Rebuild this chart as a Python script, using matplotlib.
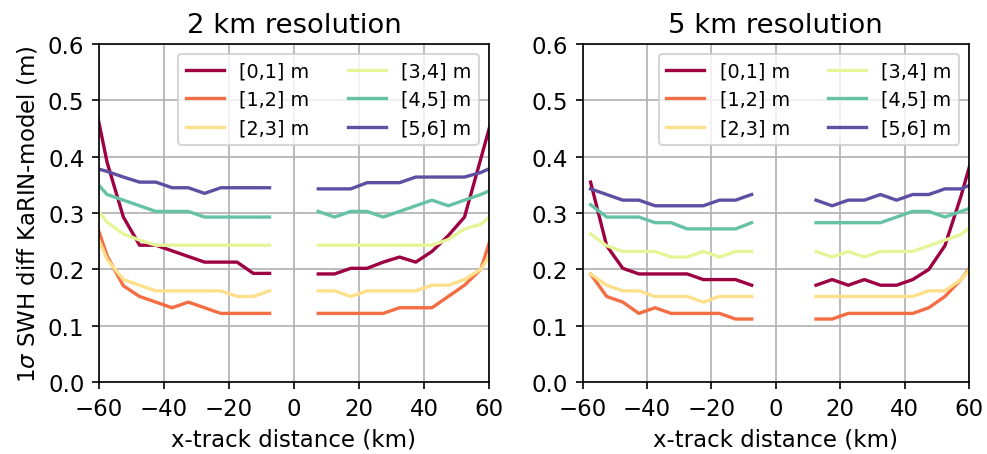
import numpy as np
import matplotlib
matplotlib.use("Agg")
import matplotlib.pyplot as plt

plt.rcParams['font.size'] = 11

# SWH bins and colours
bins = ['[0,1] m', '[1,2] m', '[2,3] m', '[3,4] m', '[4,5] m', '[5,6] m']
colors = plt.cm.Spectral(np.linspace(0, 1, len(bins)))

# --- 2 km resolution ---
x2_left = np.arange(-62.5, -5, 5.0)
x2_right = np.arange(7.5, 65, 5.0)
swh2_left = [
    [0.53, 0.39, 0.293, 0.243, 0.243, 0.233, 0.223, 0.213, 0.213, 0.213, 0.193, 0.193],
    [0.31, 0.224, 0.171, 0.152, 0.142, 0.132, 0.142, 0.132, 0.122, 0.122, 0.122, 0.122],
    [0.285, 0.218, 0.182, 0.172, 0.162, 0.162, 0.162, 0.162, 0.162, 0.152, 0.152, 0.162],
    [0.32, 0.284, 0.263, 0.252, 0.243, 0.243, 0.243, 0.243, 0.243, 0.243, 0.243, 0.243],
    [0.365, 0.333, 0.323, 0.313, 0.303, 0.303, 0.303, 0.293, 0.293, 0.293, 0.293, 0.293],
    [0.382, 0.374, 0.364, 0.355, 0.355, 0.345, 0.345, 0.335, 0.345, 0.345, 0.345, 0.345],
]
swh2_right = [
    [0.192, 0.192, 0.202, 0.202, 0.213, 0.222, 0.213, 0.232, 0.26, 0.293, 0.396, 0.50],
    [0.122, 0.122, 0.122, 0.122, 0.122, 0.132, 0.132, 0.132, 0.152, 0.172, 0.20, 0.29],
    [0.162, 0.162, 0.152, 0.162, 0.162, 0.162, 0.162, 0.172, 0.172, 0.182, 0.20, 0.245],
    [0.243, 0.243, 0.243, 0.243, 0.243, 0.243, 0.243, 0.243, 0.253, 0.272, 0.28, 0.305],
    [0.303, 0.293, 0.303, 0.303, 0.293, 0.303, 0.313, 0.323, 0.313, 0.323, 0.333, 0.345],
    [0.343, 0.343, 0.343, 0.354, 0.354, 0.354, 0.364, 0.364, 0.364, 0.364, 0.372, 0.385],
]

# --- 5 km resolution ---
x5_left = np.arange(-57.5, -5, 5.0)
x5_right = np.arange(12.5, 65, 5.0)
swh5_left = [
    [0.355, 0.242, 0.202, 0.192, 0.192, 0.192, 0.192, 0.182, 0.182, 0.182, 0.172],
    [0.192, 0.152, 0.142, 0.122, 0.132, 0.122, 0.122, 0.122, 0.122, 0.112, 0.112],
    [0.192, 0.172, 0.162, 0.162, 0.152, 0.152, 0.152, 0.142, 0.152, 0.152, 0.152],
    [0.263, 0.242, 0.232, 0.232, 0.232, 0.222, 0.222, 0.232, 0.222, 0.232, 0.232],
    [0.315, 0.293, 0.293, 0.293, 0.283, 0.283, 0.272, 0.272, 0.272, 0.272, 0.283],
    [0.343, 0.333, 0.323, 0.323, 0.313, 0.313, 0.313, 0.313, 0.323, 0.323, 0.333],
]
swh5_right = [
    [0.172, 0.182, 0.172, 0.182, 0.172, 0.172, 0.182, 0.20, 0.242, 0.33, 0.43],
    [0.112, 0.112, 0.122, 0.122, 0.122, 0.122, 0.122, 0.132, 0.152, 0.182, 0.22],
    [0.152, 0.152, 0.152, 0.152, 0.152, 0.152, 0.152, 0.162, 0.162, 0.182, 0.215],
    [0.232, 0.222, 0.232, 0.222, 0.232, 0.232, 0.232, 0.242, 0.252, 0.262, 0.285],
    [0.283, 0.283, 0.283, 0.283, 0.283, 0.293, 0.303, 0.303, 0.293, 0.303, 0.313],
    [0.323, 0.313, 0.323, 0.323, 0.333, 0.323, 0.333, 0.333, 0.343, 0.343, 0.355],
]

panels = [
    ('2 km resolution', x2_left, swh2_left, x2_right, swh2_right),
    ('5 km resolution', x5_left, swh5_left, x5_right, swh5_right),
]

fig = plt.figure(figsize=(6.58, 3.033), dpi=150)
ax_pos = [[0.1003, 0.158, 0.395, 0.743], [0.5902, 0.158, 0.3916, 0.743]]

for pos, (title, xl, yl, xr, yr) in zip(ax_pos, panels):
    ax = fig.add_axes(pos)
    for i, label in enumerate(bins):
        ax.plot(xl, yl[i], color=colors[i], lw=1.6, label=label)
        ax.plot(xr, yr[i], color=colors[i], lw=1.6)
    ax.set_xlim(-60, 60)
    ax.set_ylim(0, 0.6)
    ax.set_xticks([-60, -40, -20, 0, 20, 40, 60])
    ax.grid(True)
    ax.set_title(title)
    ax.set_xlabel('x-track distance (km)')
    ax.legend(ncol=2, loc='upper right', fontsize='small')
    if pos[0] < 0.5:
        ax.set_ylabel(r'1$\sigma$ SWH diff KaRIN-model (m)')

fig.savefig('out.png', dpi=150)
